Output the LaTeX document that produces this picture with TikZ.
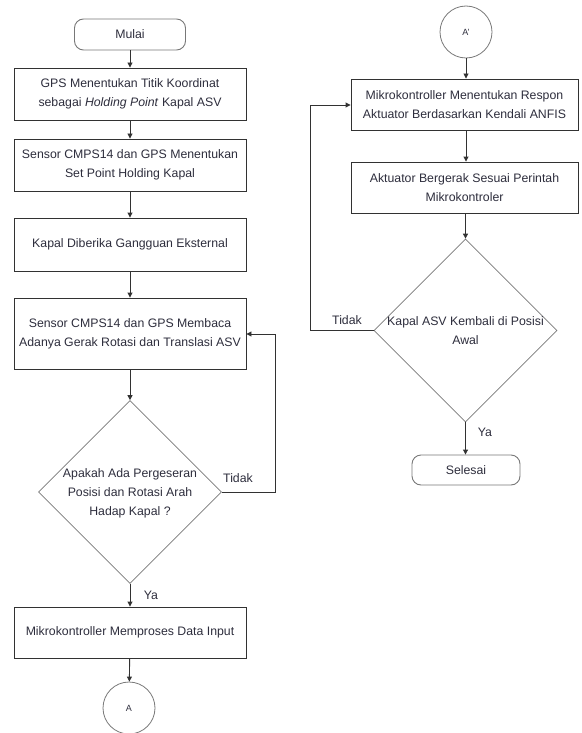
\documentclass[tikz,border=0pt]{standalone}
\usepackage{fontspec}
\setmainfont{Liberation Sans}
\usetikzlibrary{shapes.geometric,arrows.meta}
\definecolor{txt}{RGB}{45,45,60}
\definecolor{edge}{RGB}{50,50,50}
\definecolor{dgray}{RGB}{120,120,120}
\begin{document}
\begin{tikzpicture}[x=1pt,y=-1pt,
  every node/.style={font=\fontsize{12.3}{19}\selectfont, text=txt},
  procbox/.style={draw=edge, line width=0.9pt, rectangle, align=center, inner sep=0pt},
  termbox/.style={draw=dgray, line width=0.9pt, rectangle, rounded corners=9pt, align=center, inner sep=0pt},
  decbox/.style={draw=dgray, line width=0.7pt, diamond, inner sep=0pt, minimum width=183pt, minimum height=183pt},
  conn/.style={draw=dgray, line width=0.8pt, circle, minimum size=52pt, inner sep=0pt, font=\fontsize{9}{11}\selectfont},
  lbl/.style={inner sep=0pt, align=center},
  flow/.style={draw=edge, line width=0.9pt, -{Triangle[length=5pt,width=5pt]}},
  plain/.style={draw=edge, line width=0.9pt}
]
\useasboundingbox (0,0) rectangle (581,733);

% left column
\node[termbox, minimum width=111pt, minimum height=31pt] (mulai) at (130,34.5) {Mulai};
\node[procbox, minimum width=232pt, minimum height=52pt] (b1) at (130,94) {GPS Menentukan Titik Koordinat\\sebagai \textit{Holding Point} Kapal ASV};
\node[procbox, minimum width=232pt, minimum height=52pt] (b2) at (130,165) {Sensor CMPS14 dan GPS Menentukan\\Set Point Holding Kapal};
\node[procbox, minimum width=232pt, minimum height=53pt] (b3) at (130,244.5) {Kapal Diberika Gangguan Eksternal};
\node[procbox, minimum width=232pt, minimum height=71pt] (b4) at (130,333.5) {Sensor CMPS14 dan GPS Membaca\\Adanya Gerak Rotasi dan Translasi ASV};
\node[decbox] (d1) at (130,492) {};
\node[lbl] (d1t) at (130,493) {Apakah Ada Pergeseran\\Posisi dan Rotasi Arah\\Hadap Kapal ?};
\node[procbox, minimum width=232pt, minimum height=51pt] (b5) at (130,632.5) {Mikrokontroller Memproses Data Input};
\node[conn] (cA) at (129,708) {A};

\coordinate (k1) at (275,492);
\coordinate (k2) at (275,334);
\node[lbl] (t1) at (238,478) {Tidak};
\node[lbl] (y1) at (151,595) {Ya};

\path[flow] (mulai) -- (b1);
\path[flow] (b1) -- (b2);
\path[flow] (b2) -- (b3);
\path[flow] (b3) -- (b4);
\path[flow] (b4) -- (d1);
\path[flow] (d1) -- (b5);
\path[flow] (b5) -- (cA);
\path[flow] (d1.east) -- (k1) -- (k2) -- (b4.east |- k2);

% right column
\node[conn] (cB) at (466,32) {A'};
\node[procbox, minimum width=227pt, minimum height=51pt] (r1) at (464.5,104.5) {Mikrokontroller Menentukan Respon\\Aktuator Berdasarkan Kendali ANFIS};
\node[procbox, minimum width=227pt, minimum height=51pt] (r2) at (464.5,187.5) {Aktuator Bergerak Sesuai Perintah\\Mikrokontroler};
\node[decbox] (d2) at (465.5,330.5) {};
\node[lbl] (d2t) at (465.5,331) {Kapal ASV Kembali di Posisi\\Awal};
\node[termbox, minimum width=108pt, minimum height=30pt] (sel) at (466,470) {Selesai};

\coordinate (k3) at (310,330.5);
\coordinate (k4) at (310,105);
\node[lbl] (t2) at (347,320) {Tidak};
\node[lbl] (y2) at (485,432) {Ya};

\path[flow] (cB) -- (cB |- r1.north);
\path[flow] (r1.south -| cB) -- (cB |- r2.north);
\path[flow] (r2.south -| d2) -- (d2.north);
\path[flow] (d2.south) -- (d2.south |- sel.north);
\path[flow] (d2.west) -- (k3) -- (k4) -- (r1.west |- k4);
\end{tikzpicture}
\end{document}
